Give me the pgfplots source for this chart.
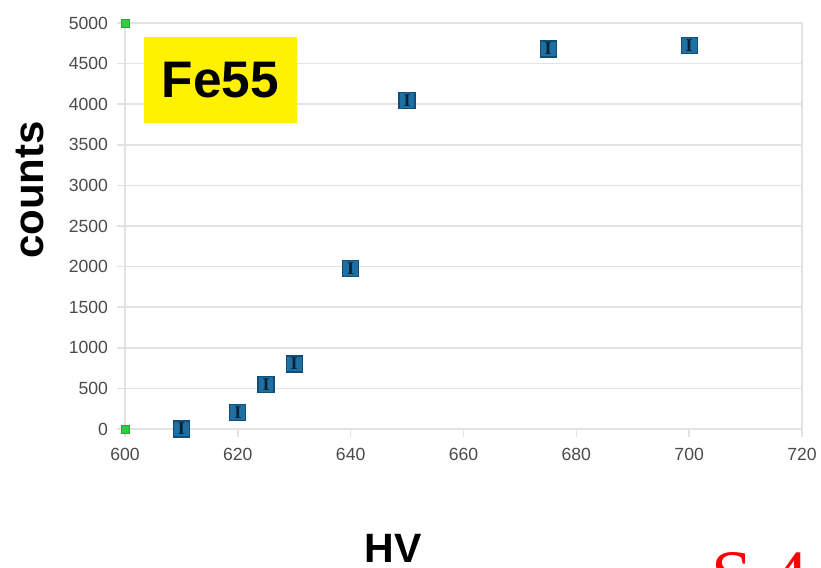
\documentclass[border=0pt]{standalone}
\usepackage{pgfplots}
\pgfplotsset{compat=1.18}
\usepackage{fontspec}
\setmainfont{Liberation Sans}
\newfontfamily\seriffont{Liberation Serif}
\definecolor{markblue}{HTML}{1F6FA3}
\definecolor{markedge}{HTML}{0E4E78}
\definecolor{gridgray}{HTML}{E2E2E2}
\definecolor{ticktext}{HTML}{4A4A4A}
\definecolor{dotgreen}{HTML}{33CC44}
\colorlet{errcol}{markedge!45!black}
\begin{document}
\begin{tikzpicture}
\path[use as bounding box] (0,0) rectangle (410.5pt,284pt);
\begin{axis}[
  at={(62.5pt,69.5pt)}, anchor=south west,
  scale only axis, width=338.5pt, height=203pt,
  xmin=600, xmax=720, ymin=0, ymax=5000,
  xtick={600,620,...,720},
  ytick={0,500,...,5000},
  xtick pos=lower, ytick pos=left,
  ymajorgrids, grid style={gridgray, line width=0.8pt},
  axis line style={gridgray, line width=0.8pt},
  tick style={gridgray, line width=0.8pt},
  tick align=outside,
  major tick length=4pt,
  /pgf/number format/assume math mode=true,
  /pgf/number format/.cd, 1000 sep={}, /pgfplots/.cd,
  ticklabel style={font=\fontsize{8.8}{10}\selectfont, text=ticktext},
  yticklabel style={xshift=-1pt},
  xticklabel style={yshift=-2pt},
  clip=false,
]
\addplot[only marks, mark=square*, mark size=4pt,
  mark options={fill=markblue, draw=markedge, line width=0.6pt}]
coordinates {
  (610,0) (620,200) (625,550) (630,800)
  (640,1980) (650,4050) (675,4680) (700,4720)
};
\addplot[only marks, mark=text, forget plot,
  text mark as node=true,
  text mark={\seriffont\bfseries I},
  text mark style={font=\fontsize{9}{9}\selectfont, text=errcol, inner sep=0pt, anchor=center}]
coordinates {
  (610,0) (620,200) (625,550) (630,800)
  (640,1980) (650,4050) (675,4680) (700,4720)
};
\addplot[only marks, mark=square*, mark size=2pt,
  mark options={fill=dotgreen, draw=dotgreen!80!black, line width=0.3pt}]
coordinates {(600,0) (600,5000)};
\end{axis}
\fill[yellow] (72pt,222.5pt) rectangle (148.5pt,265.5pt);
\node[font=\fontsize{25.7}{28}\selectfont\bfseries, inner sep=0] at (110.25pt,244pt) {Fe55};
\node[font=\fontsize{21}{24}\selectfont\bfseries, rotate=90, inner sep=0] at (15pt,189pt) {counts};
\node[font=\fontsize{20.5}{24}\selectfont\bfseries, inner sep=0] at (196.5pt,10pt) {HV};
\node[font=\seriffont\fontsize{37}{40}\selectfont, text=red, anchor=base west, inner sep=0] at (355.5pt,-17pt) {S 4};
\end{tikzpicture}
\end{document}
